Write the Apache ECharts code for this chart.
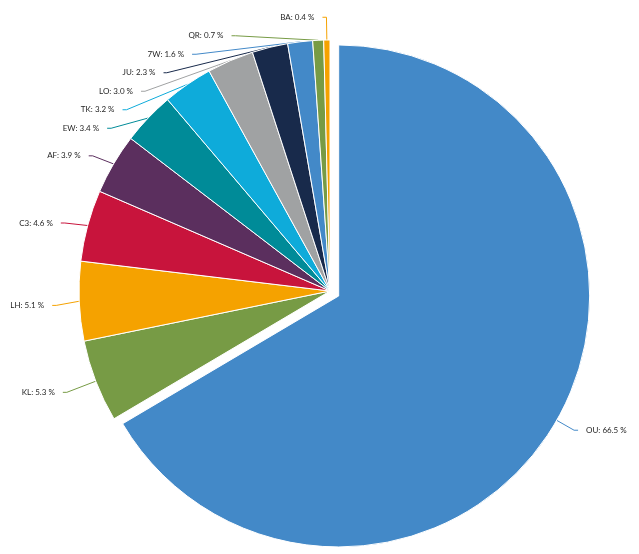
<!DOCTYPE html>
<html><head><meta charset="utf-8">
<script src="https://cdn.jsdelivr.net/npm/echarts@6/dist/echarts.min.js"></script>
<style>html,body{margin:0;padding:0;background:#fff}#c{width:639px;height:554px}</style>
</head><body><div id="c"></div>
<script>
const names = ['OU','KL','LH','C3','AF','EW','TK','LO','JU','7W','QR','BA'];
const values = [66.5,5.3,5.1,4.6,3.9,3.4,3.2,3.0,2.3,1.6,0.7,0.4];
const colors = ['#4389C8','#779B45','#F5A200','#C8143C','#5B2F5E','#008B98','#0EABDA','#A0A2A3','#182A4B','#4389C8','#779B45','#F5A200'];

const chart = echarts.init(document.getElementById('c'));
chart.setOption({
  animation:false,
  series:[{
    type:'pie',
    top:8,
    center:[330,283],
    radius:[0,251],
    startAngle:90,
    clockwise:true,
    selectedMode:'single',
    selectedOffset:10,
    avoidLabelOverlap:true,
    minShowLabelAngle:0,
    itemStyle:{borderColor:'#fff',borderWidth:1},
    label:{
      show:true,
      fontFamily:'Lato',
      fontSize:8,
      lineHeight:16.5,
      color:'#262626',
      distanceToLabelLine:8,
      formatter:p=>p.name+': '+p.value.toFixed(1)+' %'
    },
    labelLine:{show:true,length:31,length2:4,lineStyle:{width:1}},
    emphasis:{disabled:true},
    data:names.map((n,i)=>({
      name:n,value:values[i],selected:i===0,
      itemStyle:{color:colors[i]},
      labelLine:i===0?{length:20,lineStyle:{color:colors[i]}}:{lineStyle:{color:colors[i]}}
    }))
  }]
});
</script></body></html>
